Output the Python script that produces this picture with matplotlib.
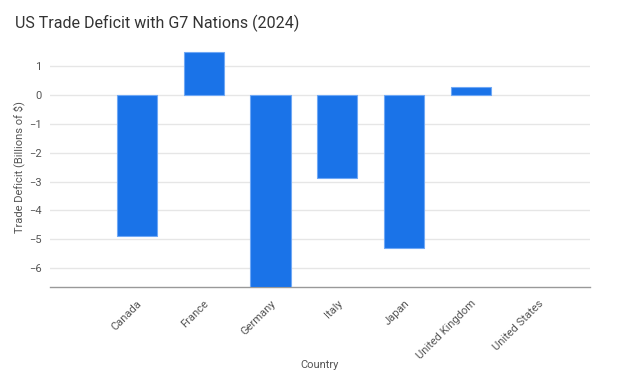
import matplotlib
matplotlib.use("Agg")
import matplotlib.pyplot as plt

plt.rcParams['font.family'] = ['Roboto', 'DejaVu Sans']

countries = ["Canada", "France", "Germany", "Italy", "Japan", "United Kingdom", "United States"]
deficit = [-4.90, 1.50, -6.66, -2.89, -5.30, 0.29, 0.0]
yticks = [1, 0, -1, -2, -3, -4, -5, -6]

fig = plt.figure(figsize=(6.4, 3.85), dpi=100)
ax = fig.add_axes([0.078, 0.2545, 0.844, 0.622])

x = list(range(len(countries)))
edges = ["#6fa8f5" if v != 0 else "none" for v in deficit]
ax.bar(x, deficit, width=0.6, color="#1a73e8", edgecolor=edges, linewidth=0.8, zorder=3)

ax.set_xlim(-1.3, 6.78)
ax.set_ylim(-6.66, 1.65)
ax.set_yticks(yticks)
ax.set_yticklabels([f"{v}".replace("-", "\u2212") for v in yticks])
ax.grid(axis="y", color="#e6e6e6", linewidth=1, zorder=0)
ax.set_xticks(x)
ax.set_xticklabels(countries, rotation=45, ha="right", rotation_mode="anchor")

for s in ["top", "right", "left"]:
    ax.spines[s].set_visible(False)
ax.spines["bottom"].set_color("#999999")
ax.spines["bottom"].set_linewidth(1)
ax.tick_params(axis="both", length=0, labelsize=8, colors="#555555")
ax.tick_params(axis="x", pad=8)
ax.tick_params(axis="y", pad=6)

ax.set_ylabel("Trade Deficit (Billions of $)", fontsize=8, color="#555555")
ax.yaxis.set_label_coords(-0.046, 0.5)
ax.set_xlabel("Country", fontsize=8, color="#555555", va="center")
ax.xaxis.set_label_coords(0.5, -0.326)

fig.text(0.023, 0.94, "US Trade Deficit with G7 Nations (2024)", fontsize=11.5, color="#333333", ha="left", va="center")

fig.savefig("out.png", dpi=100)
